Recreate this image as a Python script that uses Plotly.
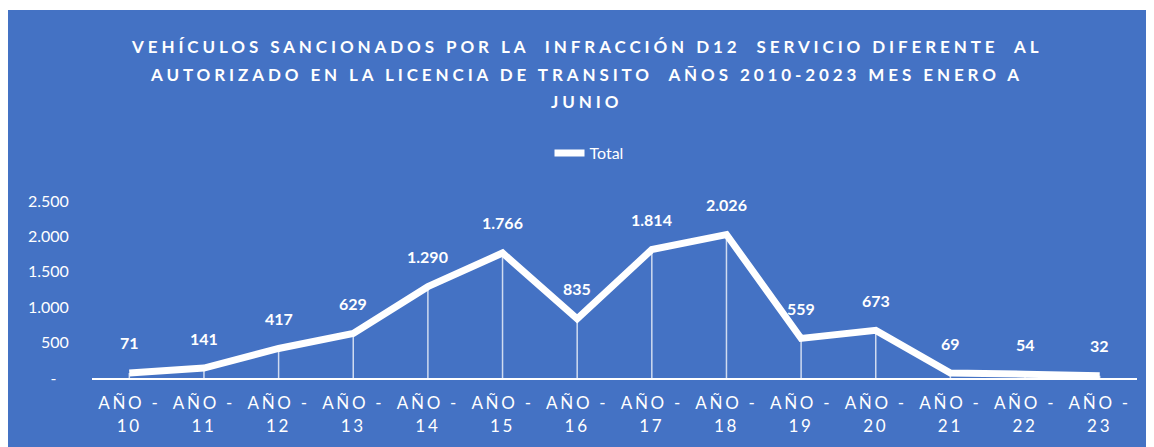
import plotly.graph_objects as go

# ---- data ----
categories = ["10", "11", "12", "13", "14", "15", "16", "17", "18", "19", "20", "21", "22", "23"]
totals = [71, 141, 417, 629, 1290, 1766, 835, 1814, 2026, 559, 673, 69, 54, 32]
y_tick_vals = [0, 500, 1000, 1500, 2000, 2500]
y_tick_text = ["-\u00a0\u00a0\u00a0", "500", "1.000", "1.500", "2.000", "2.500"]
title_lines = [
    "VEHÍCULOS SANCIONADOS POR LA  INFRACCIÓN D12  SERVICIO DIFERENTE  AL",
    "AUTORIZADO EN LA LICENCIA DE TRANSITO  AÑOS 2010-2023 MES ENERO A",
    "JUNIO",
]
series_name = "Total"

# ---- layout constants (page has an 8px body margin) ----
OFF = 8
W, H = 1154 - OFF, 447 - OFF
ML, MR, MT, MB = 92 - OFF, 17, 201 - OFF, 69
PW, PH = W - ML - MR, H - MT - MB
BLUE = "#4472C4"
FONT = "Lato"


def px_x(x):
    # x given in reference page pixels
    return (x - OFF - ML) / PW


def px_y(y):
    return (H - MB - (y - OFF)) / PH


def fmt(v):
    return f"{v:,}".replace(",", ".")


def spaced(s, sp=3):
    return f'<span style="letter-spacing:{sp}px">{s}</span>'


x_labels = [spaced("AÑO -", 2.7) + "<br>" + spaced(c, 2.7) for c in categories]
idx = list(range(len(categories)))

fig = go.Figure()
fig.add_trace(go.Scatter(
    x=idx, y=totals, name=series_name, mode="lines",
    line=dict(color="white", width=7),
    error_y=dict(type="data", symmetric=False, array=[0] * len(totals),
                 arrayminus=totals, color="rgba(255,255,255,0.75)",
                 thickness=1.5, width=0),
    cliponaxis=False,
))

annotations = []
for i, v in zip(idx, totals):
    annotations.append(dict(
        x=i, y=v, xref="x", yref="y", text=fmt(v), showarrow=False,
        yshift=30, font=dict(family=FONT, size=16, color="white", weight="bold"),
    ))

title_y = [46, 75, 101]
for line, yp in zip(title_lines, title_y):
    annotations.append(dict(
        x=px_x(586), y=px_y(yp), xref="paper", yref="paper",
        text=spaced(line, 3.9), showarrow=False, xanchor="center", yanchor="middle",
        font=dict(family=FONT, size=17, color="white", weight="bold"),
    ))

fig.update_layout(
    width=W, height=H,
    margin=dict(l=ML, r=MR, t=MT, b=MB),
    paper_bgcolor="white",
    plot_bgcolor="rgba(0,0,0,0)",
    showlegend=True,
    legend=dict(orientation="h", x=px_x(589), y=px_y(153), xanchor="center",
                yanchor="middle", font=dict(family=FONT, size=16, color="white"),
                bgcolor="rgba(0,0,0,0)"),
    shapes=[dict(type="rect", xref="paper", yref="paper",
                 x0=px_x(0), x1=px_x(1160), y0=px_y(460), y1=px_y(OFF + 2),
                 fillcolor=BLUE, line=dict(width=0), layer="below")],
    annotations=annotations,
    xaxis=dict(
        tickmode="array", tickvals=idx, ticktext=x_labels,
        showgrid=False, zeroline=False, showline=True, linecolor="white", linewidth=2,
        ticks="outside", ticklen=9, tickcolor="rgba(0,0,0,0)",
        tickfont=dict(family=FONT, size=17, color="white"),
        range=[-0.5, len(categories) - 0.5],
    ),
    yaxis=dict(
        range=[0, 2500], tickmode="array", tickvals=y_tick_vals, ticktext=y_tick_text,
        showgrid=False, zeroline=False, showline=False,
        ticks="outside", ticklen=19, tickcolor="rgba(0,0,0,0)",
        tickfont=dict(family=FONT, size=16, color="white"),
    ),
)

fig.write_html("out.html")
